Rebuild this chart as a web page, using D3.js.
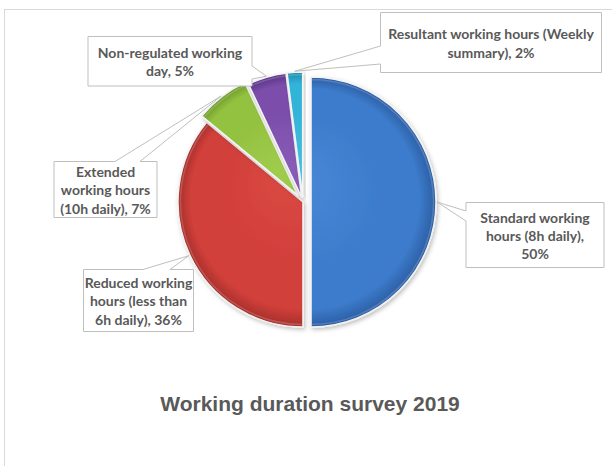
<!DOCTYPE html>
<html>
<head>
<meta charset="utf-8">
<script src="https://cdn.jsdelivr.net/npm/d3@7"></script>
<style>
  html, body { margin: 0; padding: 0; background: #ffffff; }
  svg { display: block; }
</style>
</head>
<body>
<svg id="chart" width="612" height="466"></svg>
<script>
// Survey shares, clockwise from 12 o'clock
const categories = [
  "Standard working hours (8h daily)",
  "Reduced working hours (less than 6h daily)",
  "Extended working hours (10h daily)",
  "Non-regulated working day",
  "Resultant working hours (Weekly summary)"
];
const values = [50, 36, 7, 5, 2];
const title = "Working duration survey 2019";

// Slice colours: base, rim shade, centre highlight
const baseColors  = ["#3d7ccc", "#d13f3a", "#93c13f", "#7b4eab", "#33b3d8"];
const rimColors   = ["#2b5da3", "#a52f2b", "#6e9a2b", "#583385", "#1f8cae"];
const lightColors = ["#4a89d8", "#da4943", "#a0cc4d", "#8a5dba", "#47c1e3"];

// How far each slice is pulled out from the centre (px)
const explode = [8, 0, 8, 5, 5];

// Words per line for each callout
const lineBreaks = [[2, 3, 1], [2, 3, 3], [1, 2, 3], [2, 2], [4, 2]];

// Callout boxes: x, y, w, h and where the pointer leaves the box
const callouts = [
  { x: 466,   y: 202.5, w: 138, h: 65, side: "left",  a: 211, b: 221 },
  { x: 83.5,  y: 269.5, w: 110, h: 62, side: "top",   a: 143, b: 170 },
  { x: 54,    y: 161.5, w: 103, h: 56, side: "top",   a: 115, b: 140 },
  { x: 88,    y: 36.5,  w: 164, h: 49.5, side: "right", a: 66, b: 79 },
  { x: 380.5, y: 12.5,  w: 221, h: 60, side: "left",  a: 46,  b: 64 }
];

const svg = d3.select("#chart");
const cx = 303, cy = 202, R = 125;

// Outer chart-area frame
svg.append("rect")
  .attr("x", 4.5).attr("y", 9.5)
  .attr("width", 640).attr("height", 500)
  .attr("fill", "#ffffff")
  .attr("stroke", "#d9d9d9")
  .attr("stroke-width", 1);

const defs = svg.append("defs");

// Soft shadow under the slices
const shadow = defs.append("filter").attr("id", "sliceShadow")
  .attr("x", "-20%").attr("y", "-20%").attr("width", "140%").attr("height", "140%");
shadow.append("feDropShadow")
  .attr("dx", 1.5).attr("dy", 2).attr("stdDeviation", 2)
  .attr("flood-color", "#000000").attr("flood-opacity", 0.25);

values.forEach((v, i) => {
  const g = defs.append("radialGradient")
    .attr("id", "grad" + i)
    .attr("gradientUnits", "userSpaceOnUse")
    .attr("cx", 0).attr("cy", 0).attr("r", R)
    .attr("fx", -20).attr("fy", -25);
  g.append("stop").attr("offset", "0%").attr("stop-color", lightColors[i]);
  g.append("stop").attr("offset", "60%").attr("stop-color", baseColors[i]);
  g.append("stop").attr("offset", "88%").attr("stop-color", baseColors[i]);
  g.append("stop").attr("offset", "100%").attr("stop-color", rimColors[i]);
});

const pie = d3.pie().sort(null).startAngle(0).endAngle(2 * Math.PI);
const arcs = pie(values);
const arc = d3.arc().innerRadius(0).outerRadius(R);
const bevel = d3.arc().innerRadius(0).outerRadius(R - 2.5);

function offsetOf(d, i) {
  const mid = (d.startAngle + d.endAngle) / 2;
  return [Math.sin(mid) * explode[i], -Math.cos(mid) * explode[i]];
}

const slices = svg.append("g")
  .attr("transform", `translate(${cx},${cy})`);

const sliceG = slices.selectAll("g.slice")
  .data(arcs)
  .join("g")
  .attr("class", "slice")
  .attr("transform", (d, i) => {
    const [dx, dy] = offsetOf(d, i);
    return `translate(${dx},${dy})`;
  });

sliceG.append("path")
  .attr("d", arc)
  .attr("fill", (d, i) => `url(#grad${i})`)
  .attr("stroke", "#f2f2f2")
  .attr("stroke-width", 1.5)
  .attr("stroke-linejoin", "round")
  .attr("filter", "url(#sliceShadow)");

// Inner bevel line just inside the rim
sliceG.append("path")
  .attr("d", bevel)
  .attr("fill", "none")
  .attr("stroke", "#ffffff")
  .attr("stroke-opacity", 0.18)
  .attr("stroke-width", 1.5);

// Callouts with wedge pointers
const labelG = svg.append("g");
arcs.forEach((d, i) => {
  const c = callouts[i];
  const mid = (d.startAngle + d.endAngle) / 2;
  const [dx, dy] = offsetOf(d, i);
  const tx = cx + dx + Math.sin(mid) * (R + 1);
  const ty = cy + dy - Math.cos(mid) * (R + 1);
  const x0 = c.x, y0 = c.y, x1 = c.x + c.w, y1 = c.y + c.h;
  const p = d3.path();
  if (c.side === "left") {
    p.moveTo(x0, y0); p.lineTo(x1, y0); p.lineTo(x1, y1); p.lineTo(x0, y1);
    p.lineTo(x0, c.b); p.lineTo(tx, ty); p.lineTo(x0, c.a); p.closePath();
  } else if (c.side === "top") {
    p.moveTo(x0, y0); p.lineTo(c.a, y0); p.lineTo(tx, ty); p.lineTo(c.b, y0);
    p.lineTo(x1, y0); p.lineTo(x1, y1); p.lineTo(x0, y1); p.closePath();
  } else {
    p.moveTo(x0, y0); p.lineTo(x1, y0); p.lineTo(x1, c.a); p.lineTo(tx, ty);
    p.lineTo(x1, c.b); p.lineTo(x1, y1); p.lineTo(x0, y1); p.closePath();
  }
  labelG.append("path")
    .attr("d", p.toString())
    .attr("fill", "#ffffff")
    .attr("stroke", "#bfbfbf")
    .attr("stroke-width", 1);

  const words = (categories[i] + ", " + values[i] + "%").split(" ");
  const lines = [];
  let k = 0;
  lineBreaks[i].forEach(n => { lines.push(words.slice(k, k + n).join(" ")); k += n; });
  const lh = 18.4;
  const centerY = c.y + c.h / 2 + 1;
  const text = labelG.append("text")
    .attr("text-anchor", "middle")
    .attr("font-family", "Lato, 'Open Sans', sans-serif")
    .attr("font-weight", "bold")
    .attr("font-size", 14)
    .attr("fill", "#595959");
  lines.forEach((ln, j) => {
    text.append("tspan")
      .attr("x", c.x + c.w / 2)
      .attr("y", centerY + (j - (lines.length - 1) / 2) * lh)
      .attr("dy", "0.35em")
      .text(ln);
  });
});

// Chart title
svg.append("text")
  .attr("x", 310)
  .attr("y", 411)
  .attr("text-anchor", "middle")
  .attr("font-family", "'Liberation Sans', Arial, sans-serif")
  .attr("font-weight", "bold")
  .attr("font-size", 21)
  .attr("fill", "#595959")
  .text(title);
</script>
</body>
</html>
